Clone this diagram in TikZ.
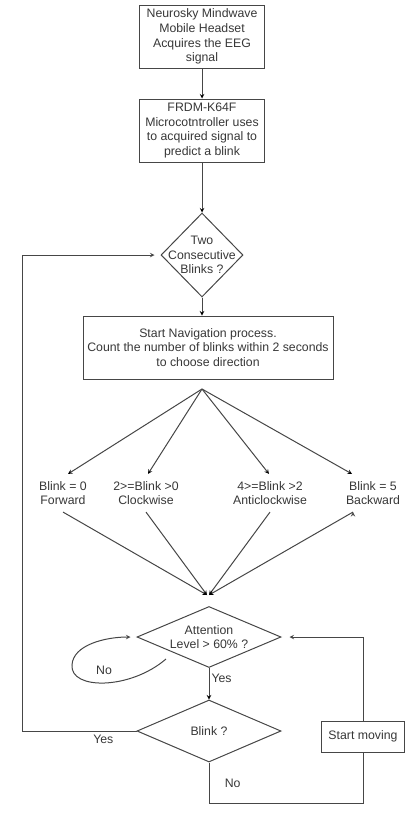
\documentclass[tikz,border=0pt]{standalone}
\usepackage{fontspec}
\setmainfont{Liberation Sans}
\usepackage{xcolor}
\usetikzlibrary{arrows}
\usetikzlibrary{shapes.geometric}
\definecolor{ln}{RGB}{70,70,70}
\definecolor{tx}{RGB}{55,55,55}

\begin{document}
\begin{tikzpicture}[x=1pt,y=-1pt,
  every node/.style={font=\fontsize{12.3}{14.7}\selectfont,text=tx},
  box/.style={draw=ln,line width=1pt,align=center,inner sep=3pt},
  dia/.style={draw=ln,line width=1pt,diamond,aspect=1,inner sep=-12pt,align=center},
  lbl/.style={align=center,inner sep=7pt}]
\useasboundingbox (0,0) rectangle (412,833);
% boxes and decisions
\node[box,minimum width=125pt,minimum height=63pt] (b1) at (202,36.5) {Neurosky Mindwave\\Mobile Headset\\Acquires the EEG\\signal};
\node[box,minimum width=125pt,minimum height=63pt] (b2) at (202,130.5) {FRDM-K64F\\Microcotntroller uses\\to acquired signal to\\predict a blink};
\node[dia,minimum width=82pt,minimum height=84pt] (d1) at (202,255) {Two\\Consecutive\\Blinks ?};
\node[box,minimum width=250pt,minimum height=63pt] (b3) at (208,347.5) {Start Navigation process.\\Count the number of blinks within 2 seconds\\to choose direction};
\coordinate (fan) at (202,389);
\node[lbl] (l1) at (63,493) {Blink = 0\\Forward};
\node[lbl] (l2) at (146,493) {2>=Blink >0\\Clockwise};
\node[lbl] (l3) at (270,493) {4>=Blink >2\\Anticlockwise};
\node[lbl] (l4) at (373,493) {Blink = 5\\Backward};
\coordinate (c1) at (207,595);
\coordinate (c2) at (209,595);
\node[dia,minimum width=144pt,minimum height=61pt] (d2) at (209,637) {Attention\\Level > 60\% ?};
\node[dia,minimum width=144pt,minimum height=62pt] (d3) at (209,731) {Blink ?};
\node[box,minimum width=83pt,minimum height=31pt] (sm) at (363,736.5) {Start moving};
\node (no1) at (104,670) {No};
\coordinate (lft) at (22,0);

\path[draw=ln,line width=1pt,-stealth]
  (b1) edge (b2)
  (b2) edge (d1)
  (d1.south) edge (d1.south |- b3.north)
  (fan) edge ([xshift=5pt]l1.north)
  (fan) edge ([xshift=2pt]l2.north)
  (fan) edge ([xshift=-1pt]l3.north)
  (fan) edge ([xshift=-21pt]l4.north)
  (l1.south) edge (c1)
  (l2.south) edge (c1)
  (l3.south) edge (c2)
  ([xshift=-20pt]l4.south) edge (c2)
  (d2) edge node[right,pos=0.34,inner sep=2pt] {Yes} (d3);

\draw[ln,line width=1pt,-stealth,shorten >=6pt] (d3.west) -- node[below,pos=0.29] {Yes} (d3.west -| lft) |- (d1.west);
\draw[ln,line width=1pt] (d3.south) -- node[right=12pt] {No} ++(0,41) -| (sm.south);
\draw[ln,line width=1pt,-stealth,shorten >=8pt] (sm.north) |- (d2.east);
\draw[ln,line width=1pt,-stealth] ([shift={(-43,22)}]d2.center) .. controls (130,690) and (70,690) .. (72,665)
  .. controls (73,645) and (105,637) .. ([xshift=-6pt]d2.west);
\end{tikzpicture}
\end{document}
